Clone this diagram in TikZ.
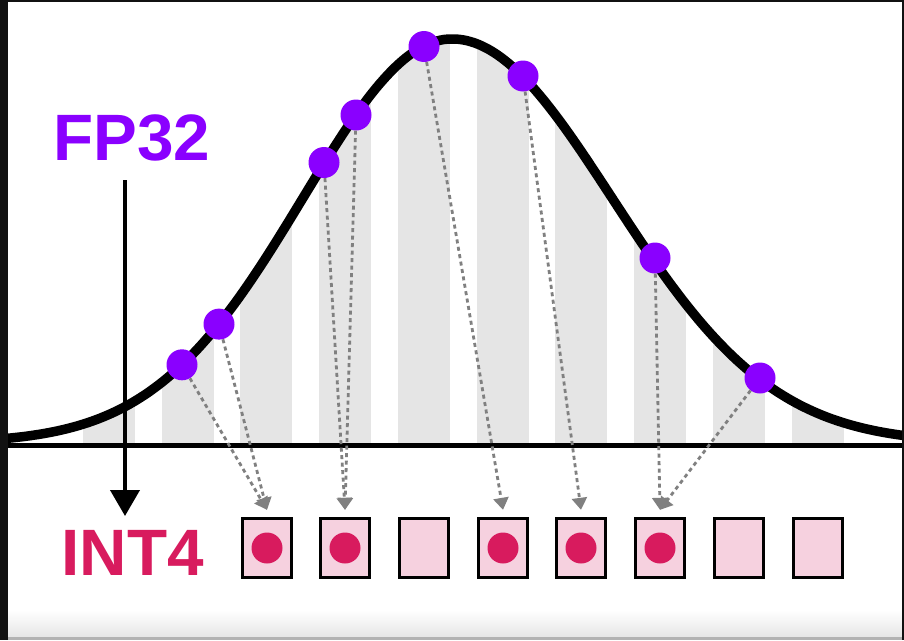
\documentclass[tikz,border=0pt]{standalone}
\usepackage{fontspec}
\setmainfont{Liberation Sans}
\usetikzlibrary{arrows.meta}
\definecolor{fpc}{HTML}{8A00FF}
\definecolor{intc}{HTML}{D81B5E}
\definecolor{boxfill}{HTML}{F6D1DF}
\definecolor{barc}{HTML}{E5E5E5}
\definecolor{dashc}{HTML}{808080}
\definecolor{edgec}{HTML}{111111}
\begin{document}
\begin{tikzpicture}[x=1pt,y=-1pt,
  dot/.style={circle,fill=fpc,inner sep=0pt,minimum size=31pt},
  qbox/.style={draw=black,line width=2.8pt,fill=boxfill,minimum width=49.5pt,minimum height=59.5pt,inner sep=0pt},
  qdot/.style={circle,fill=intc,inner sep=0pt,minimum size=31pt},
  map/.style={draw=dashc,line width=2.8pt,dash pattern=on 4pt off 3.5pt,-{Triangle[width=15pt,length=12pt]}},
  lbl/.style={font=\bfseries\fontsize{65.6}{70}\selectfont,inner sep=0pt,anchor=base},
  bar/.style={fill=barc},
  curve/.style={line width=9.5pt,line join=round}]
\useasboundingbox (0,0) rectangle (904,640);
\fill[white] (0,0) rectangle (904,640);
% gray bars under the curve
\begin{scope}
\clip plot[domain=0:452,samples=120] (\x,{443-404*exp(-0.5*((\x-452)/149)^2)})
  -- plot[domain=452:904,samples=120] (\x,{443-404*exp(-0.5*((\x-452)/160)^2)})
  -- (904,446) -- (0,446) -- cycle;
\foreach \s in {83,162,240,319,398,477,555,634,713,792}
  \fill[bar] (\s,0) rectangle ++(52,446);
\end{scope}
% axis
\coordinate (axl) at (8,445.7);
\coordinate (axr) at (904,445.7);
\draw[line width=5.5pt] (axl) -- (axr);
% curve
\draw[curve] plot[domain=0:452,samples=120] (\x,{443-404*exp(-0.5*((\x-452)/149)^2)})
  -- plot[domain=452:904,samples=120] (\x,{443-404*exp(-0.5*((\x-452)/160)^2)});
% boxes
\foreach \n/\x in {1/267,2/345,3/424,4/503,5/581,6/660,7/739,8/818}
  \node[qbox] (b\n) at (\x,548) {};
\foreach \n in {1,2,4,5,6}
  \node[qdot] (q\n) at (b\n.center) {};
% dots
\node[dot] (d1) at (182,364.8) {};
\node[dot] (d2) at (219,324.1) {};
\node[dot] (d3) at (324,162.5) {};
\node[dot] (d4) at (356,115) {};
\node[dot] (d5) at (424,46.5) {};
\node[dot] (d6) at (523,76) {};
\node[dot] (d7) at (655,258) {};
\node[dot] (d8) at (760,378) {};
% mappings
\draw[map] (d1) -- ([yshift=7pt]b1.north);
\draw[map] (d2) -- ([yshift=7pt]b1.north);
\draw[map] (d3) -- ([yshift=7pt]b2.north);
\draw[map] (d4) -- ([yshift=7pt]b2.north);
\draw[map] (d5) -- ([yshift=7pt]b4.north);
\draw[map] (d6) -- ([yshift=7pt]b5.north);
\draw[map] (d7) -- ([yshift=7pt]b6.north);
\draw[map] (d8) -- ([yshift=7pt]b6.north);
% labels
\node[lbl,text=fpc] (fp) at (132,160) {FP32};
\node[lbl,text=intc] (int) at (132.5,575) {INT4};
\coordinate (vs) at (125,180);
\coordinate (ve) at (125,516);
\draw[line width=4pt,-{Triangle[width=29pt,length=26pt]}] (vs) -- (ve);
% screenshot edges
\shade[top color=white,bottom color=black!10] (8,610) rectangle (902,637);
\fill[black!30] (8,637) rectangle (904,640);
\fill[edgec] (0,0) rectangle (8,640);
\fill[edgec] (0,0) rectangle (904,2);
\fill[edgec] (902,0) rectangle (904,640);
\end{tikzpicture}
\end{document}
